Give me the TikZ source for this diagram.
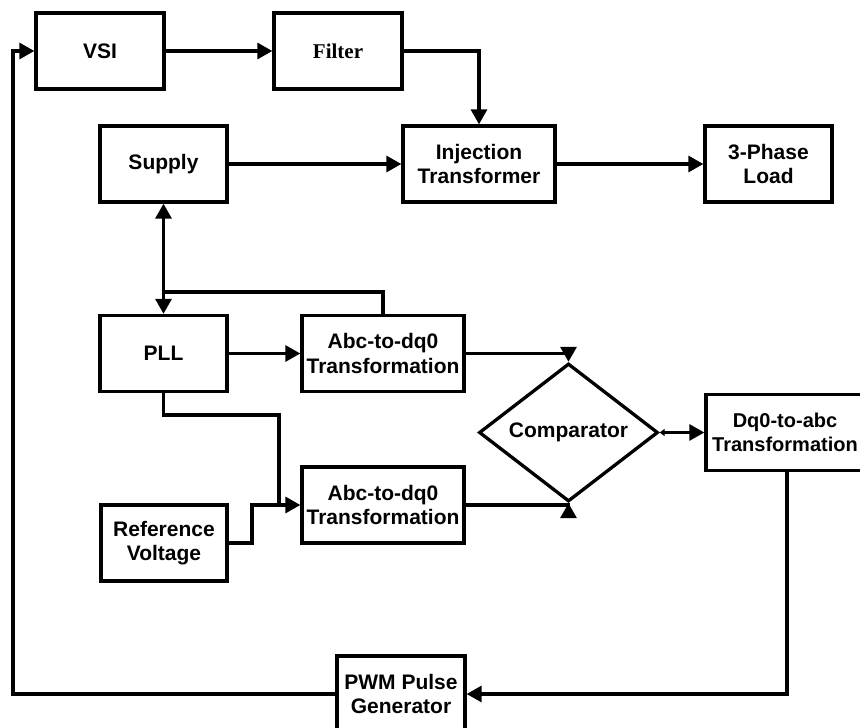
\documentclass[tikz,border=0pt]{standalone}
\usepackage{fontspec}
\setmainfont{Liberation Sans}
\newfontfamily\serifbold{Liberation Serif}
\usetikzlibrary{arrows.meta,shapes.geometric}
\begin{document}
\begin{tikzpicture}[x=1pt,y=-1pt,
  txt/.style={font=\fontsize{21}{24.5}\selectfont\bfseries},
  box/.style={draw,line width=3.3pt,rectangle,minimum width=#1,minimum height=76pt,inner sep=0pt,align=center,txt},
  box/.default=128pt,
  conn/.style={line width=3.1pt},
  arr/.style={conn,-{Triangle[length=15pt,width=16pt]}},
  darr/.style={conn,{Triangle[length=15pt,width=16pt]}-{Triangle[length=15pt,width=16pt]}},
  smallarr/.style={conn,{Triangle[length=5pt,width=7pt]}-{Triangle[length=15pt,width=16pt]}}
]
\useasboundingbox (0,0) rectangle (860,728);
% nodes
\node[box] (vsi) at (100,51) {VSI};
\node[box,font=\fontsize{21}{24.5}\selectfont\serifbold\bfseries] (filter) at (338,51) {Filter};
\node[box=127pt] (supply) at (163.5,164) {Supply};
\node[box=152pt] (inj) at (479,164) {Injection\\Transformer};
\node[box=127pt] (load) at (768.5,164) {3-Phase\\Load};
\node[box=127pt] (pll) at (163.5,353.5) {PLL};
\node[box=162pt] (abc1) at (383,353.5) {Abc-to-dq0\\Transformation};
\node[box=162pt] (abc2) at (383,505) {Abc-to-dq0\\Transformation};
\node[box=126pt] (ref) at (164,543) {Reference\\Voltage};
\node[draw,line width=3.3pt,diamond,minimum width=179pt,minimum height=107pt,inner sep=0pt,txt] (comp) at (568.5,432.5) {Comparator};
\node[box=158pt,font=\fontsize{20}{24.5}\selectfont\bfseries] (dq0) at (785,432.5) {Dq0-to-abc\\Transformation};
\node[box] (pwm) at (401,694) {PWM Pulse\\Generator};
% helper coordinates
\coordinate (fb) at (13,694);
\coordinate (j1) at (163.5,292);
\coordinate (j2) at (279,415);
\coordinate (j3) at (279,505);
\coordinate (j4) at (252,543);
\coordinate (d0) at (787,470.5);
% connectors
\draw[arr] (pwm.west) -- (fb) |- (vsi.west);
\draw[arr] (vsi.east) -- (filter.west);
\draw[arr] (filter.east) -| (inj.north);
\draw[arr] (supply.east) -- (inj.west);
\draw[arr] (inj.east) -- (load.west);
\draw[darr] (supply.south) -- (pll.north);
\draw[conn] (j1) -| (abc1.north);
\draw[arr] (pll.east) -- (abc1.west);
\draw[conn] (pll.south) |- (j2) -- (j3);
\draw[arr] (ref.east) -- (j4) |- (abc2.west);
\draw[arr] (abc1.east) -| (comp.north);
\draw[arr] (abc2.east) -| (comp.south);
\draw[smallarr] (comp.east) -- (dq0.west);
\draw[arr] (d0) |- (pwm.east);
\end{tikzpicture}
\end{document}
